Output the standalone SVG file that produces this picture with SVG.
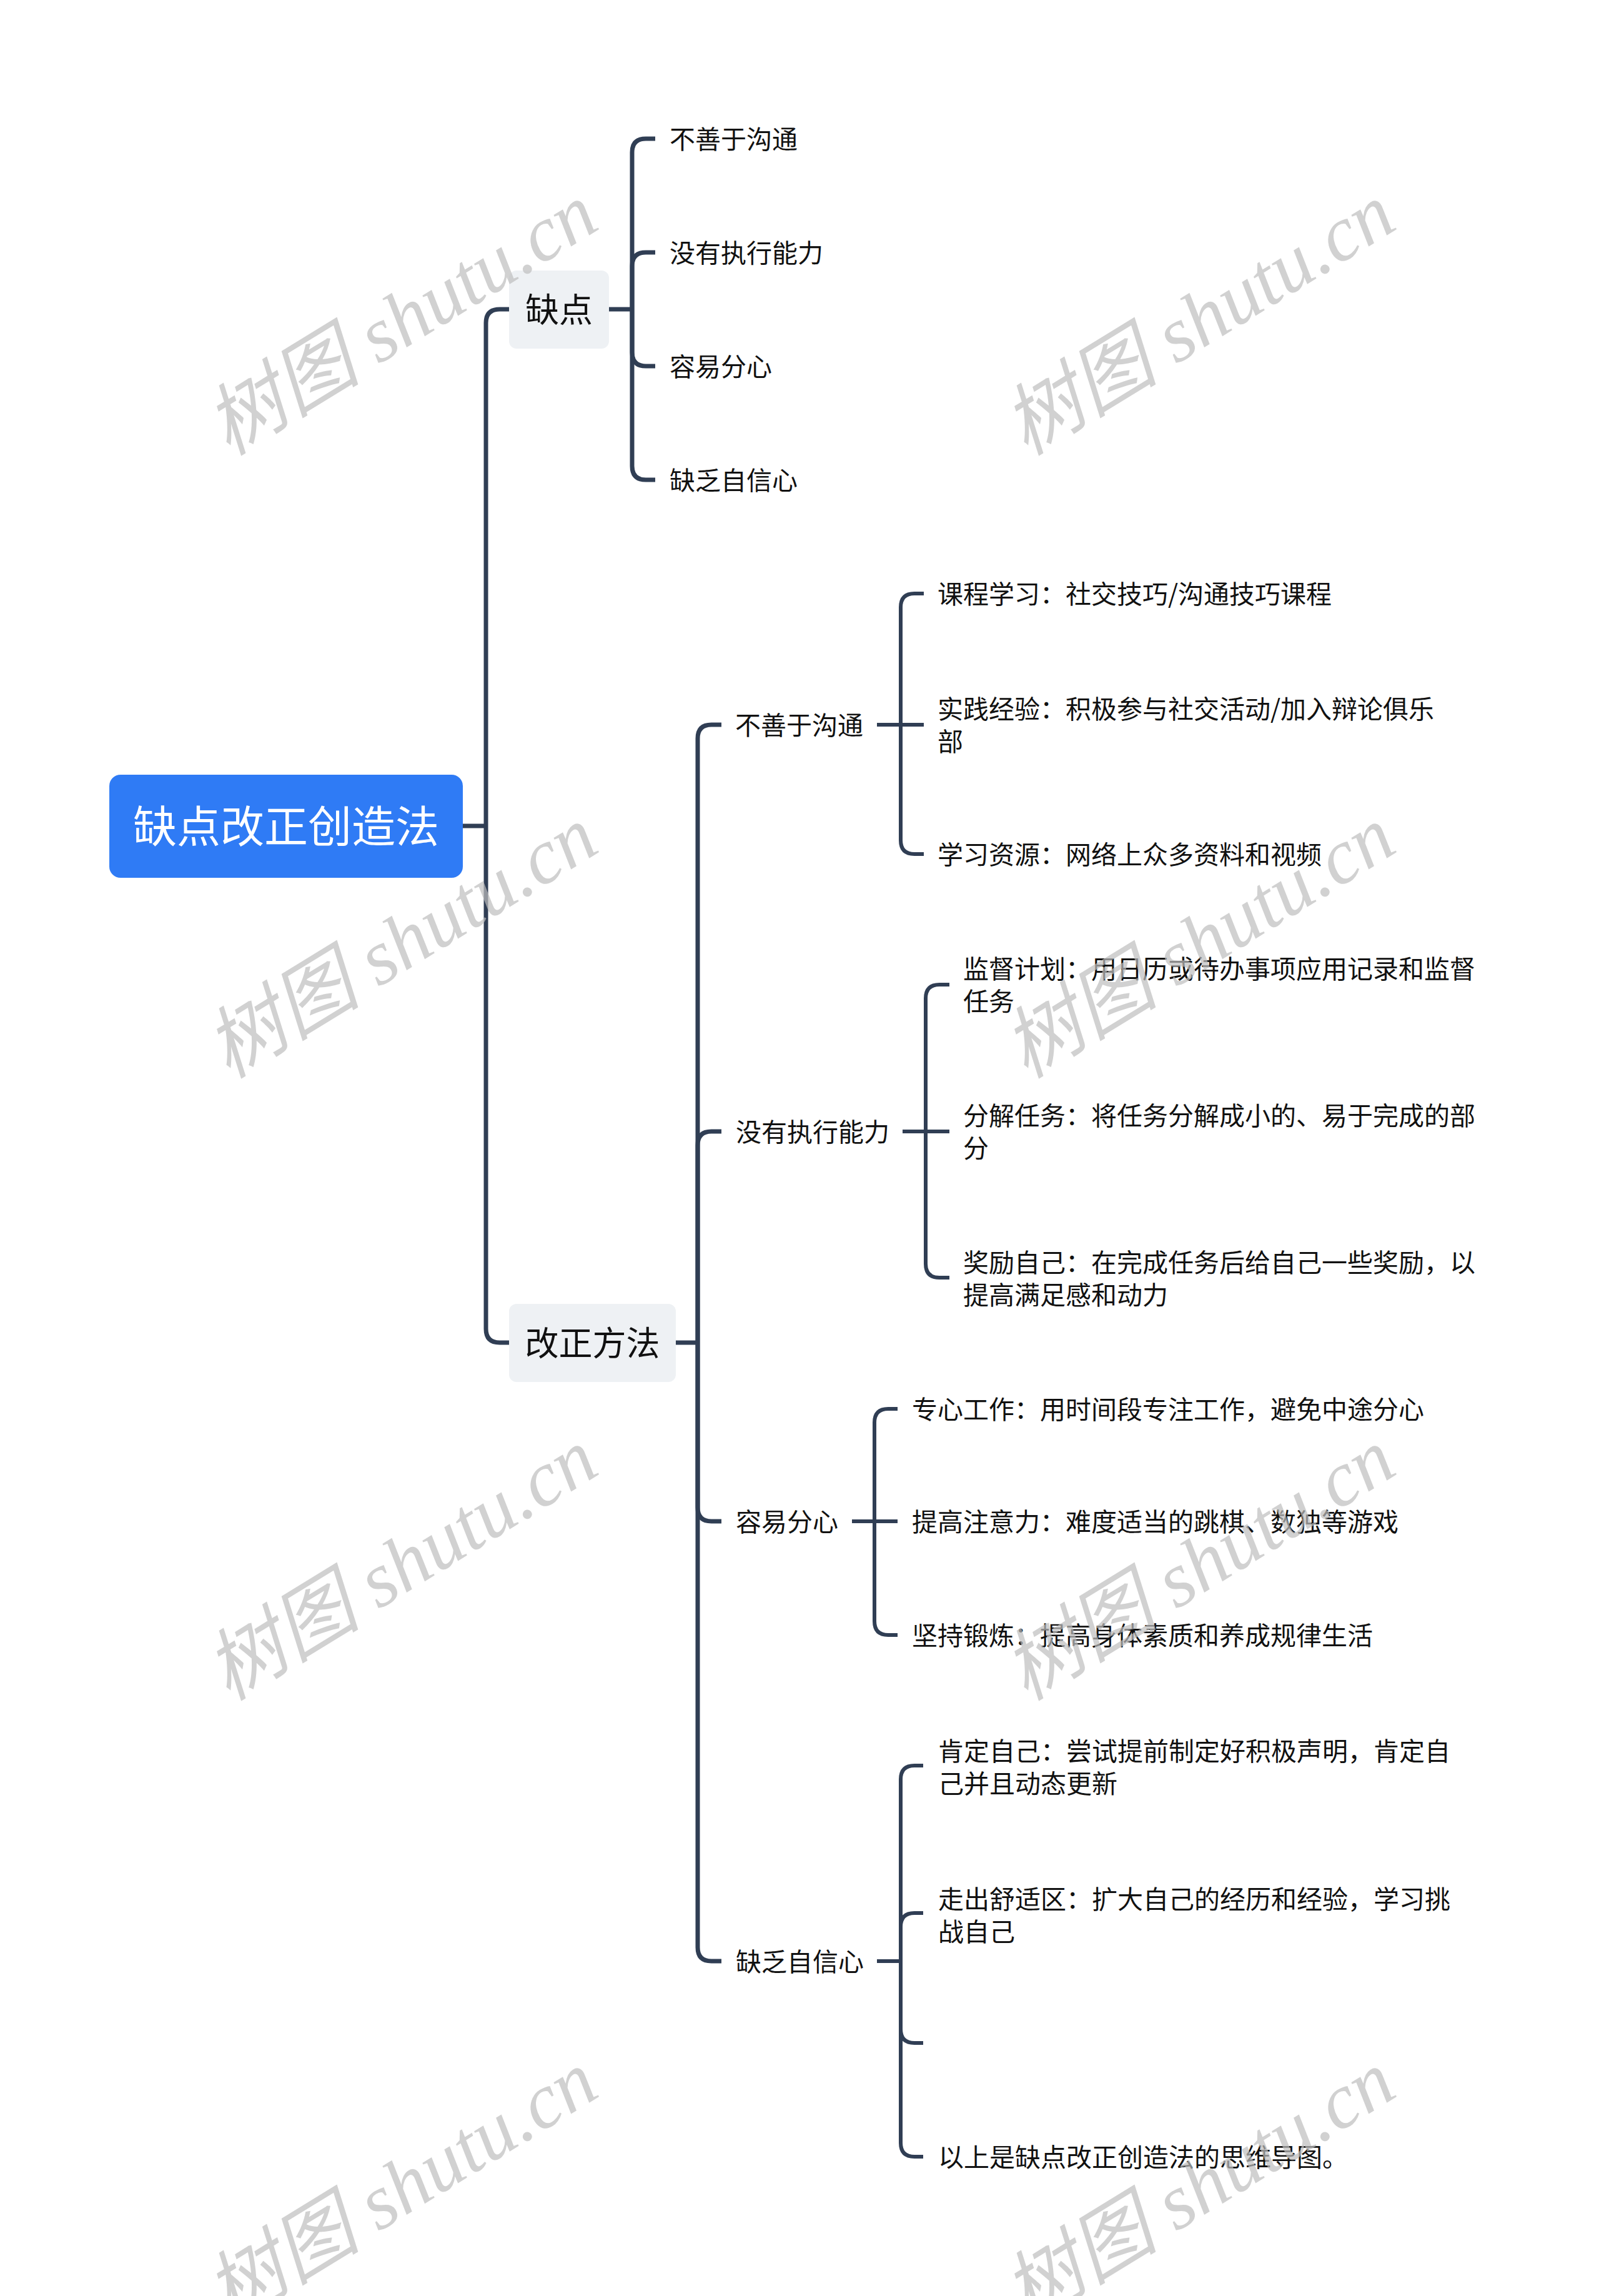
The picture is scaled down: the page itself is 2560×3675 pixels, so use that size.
<svg xmlns="http://www.w3.org/2000/svg" width="2560" height="3675" viewBox="0 0 2560 3675">
<style>
.t{font-family:"Noto Sans CJK SC","Liberation Sans",sans-serif;fill:#111111}
.l3{font-size:41px}
.l2{font-size:41px}
.l1{font-size:54px}
.root{font-size:70px;fill:#ffffff}
.c1{fill:none;stroke:#303E54;stroke-width:7;stroke-linecap:butt;stroke-linejoin:round}
.c2{fill:none;stroke:#303E54;stroke-width:6;stroke-linecap:butt;stroke-linejoin:round}
.box{fill:#EEF1F4}
.wm{font-family:"Liberation Serif","Noto Sans CJK SC",serif;font-style:italic;font-size:125px;fill:#bdbdbd;fill-opacity:0.7}
</style>
<rect width="2560" height="3675" fill="#ffffff"/>
<g id="connectors">
<path class="c1" d="M741,1322 H778"/>
<path class="c1" d="M778,1322 V517 Q778,495 800,495 H815"/>
<path class="c1" d="M778,1322 V2127 Q778,2149 800,2149 H815"/>
<path class="c1" d="M975,495 H1012"/>
<path class="c1" d="M1012,495 V244 Q1012,222 1034,222 H1049"/>
<path class="c1" d="M1012,495 V426 Q1012,404 1034,404 H1049"/>
<path class="c1" d="M1012,495 V564 Q1012,586 1034,586 H1049"/>
<path class="c1" d="M1012,495 V746 Q1012,768 1034,768 H1049"/>
<path class="c1" d="M1082,2149 H1117"/>
<path class="c1" d="M1117,2149 V1182 Q1117,1160 1139,1160 H1155"/>
<path class="c1" d="M1117,2149 V1833 Q1117,1811 1139,1811 H1155"/>
<path class="c1" d="M1117,2149 V2413 Q1117,2435 1139,2435 H1155"/>
<path class="c1" d="M1117,2149 V3117 Q1117,3139 1139,3139 H1155"/>
<path class="c2" d="M1404,1160 H1442"/>
<path class="c2" d="M1442,1160 V972 Q1442,950 1464,950 H1479"/>
<path class="c2" d="M1442,1160 H1479"/>
<path class="c2" d="M1442,1160 V1345 Q1442,1367 1464,1367 H1479"/>
<path class="c2" d="M1445,1811 H1482"/>
<path class="c2" d="M1482,1811 V1598 Q1482,1576 1504,1576 H1520"/>
<path class="c2" d="M1482,1811 H1520"/>
<path class="c2" d="M1482,1811 V2023 Q1482,2045 1504,2045 H1520"/>
<path class="c2" d="M1364,2435 H1400"/>
<path class="c2" d="M1400,2435 V2277 Q1400,2255 1422,2255 H1437"/>
<path class="c2" d="M1400,2435 H1437"/>
<path class="c2" d="M1400,2435 V2595 Q1400,2617 1422,2617 H1437"/>
<path class="c2" d="M1404,3139 H1442"/>
<path class="c2" d="M1442,3139 V2848 Q1442,2826 1464,2826 H1478"/>
<path class="c2" d="M1442,3139 V3084 Q1442,3062 1464,3062 H1478"/>
<path class="c2" d="M1442,3139 V3248 Q1442,3270 1464,3270 H1478"/>
<path class="c2" d="M1442,3139 V3430 Q1442,3452 1464,3452 H1478"/>
</g>
<g id="root">
<rect x="175" y="1240" width="566" height="165" rx="18" fill="#2F7BF5"/>
<text class="t root" x="458" y="1349" text-anchor="middle">缺点改正创造法</text>
</g>
<g id="n-quedian">
<rect class="box" x="815" y="433" width="160" height="125" rx="12"/>
<text class="t l1" x="895" y="516" text-anchor="middle">缺点</text>
</g>
<g id="n-qd1"><text class="t l2" x="1072" y="238">不善于沟通</text></g>
<g id="n-qd2"><text class="t l2" x="1072" y="420">没有执行能力</text></g>
<g id="n-qd3"><text class="t l2" x="1072" y="602">容易分心</text></g>
<g id="n-qd4"><text class="t l2" x="1072" y="784">缺乏自信心</text></g>
<g id="n-gaizheng">
<rect class="box" x="815" y="2087" width="267" height="125" rx="12"/>
<text class="t l1" x="948.5" y="2170" text-anchor="middle">改正方法</text>
</g>
<g id="n-a"><text class="t l2" x="1177" y="1176">不善于沟通</text></g>
<g id="n-a1"><text class="t l3" x="1501" y="966">课程学习：社交技巧/沟通技巧课程</text></g>
<g id="n-a2"><text class="t l3" x="1501" y="1150">实践经验：积极参与社交活动/加入辩论俱乐</text><text class="t l3" x="1501" y="1202">部</text></g>
<g id="n-a3"><text class="t l3" x="1501" y="1383">学习资源：网络上众多资料和视频</text></g>
<g id="n-b"><text class="t l2" x="1178" y="1827">没有执行能力</text></g>
<g id="n-b1"><text class="t l3" x="1542" y="1566">监督计划：用日历或待办事项应用记录和监督</text><text class="t l3" x="1542" y="1618">任务</text></g>
<g id="n-b2"><text class="t l3" x="1542" y="1801">分解任务：将任务分解成小的、易于完成的部</text><text class="t l3" x="1542" y="1853">分</text></g>
<g id="n-b3"><text class="t l3" x="1542" y="2036">奖励自己：在完成任务后给自己一些奖励，以</text><text class="t l3" x="1542" y="2088">提高满足感和动力</text></g>
<g id="n-c"><text class="t l2" x="1178" y="2451">容易分心</text></g>
<g id="n-c1"><text class="t l3" x="1460" y="2271">专心工作：用时间段专注工作，避免中途分心</text></g>
<g id="n-c2"><text class="t l3" x="1460" y="2451">提高注意力：难度适当的跳棋、数独等游戏</text></g>
<g id="n-c3"><text class="t l3" x="1460" y="2633">坚持锻炼：提高身体素质和养成规律生活</text></g>
<g id="n-d"><text class="t l2" x="1178" y="3155">缺乏自信心</text></g>
<g id="n-d1"><text class="t l3" x="1502" y="2818">肯定自己：尝试提前制定好积极声明，肯定自</text><text class="t l3" x="1502" y="2870">己并且动态更新</text></g>
<g id="n-d2"><text class="t l3" x="1502" y="3055">走出舒适区：扩大自己的经历和经验，学习挑</text><text class="t l3" x="1502" y="3107">战自己</text></g>
<g id="n-d3"></g>
<g id="n-d4"><text class="t l3" x="1502" y="3468">以上是缺点改正创造法的思维导图。</text></g>
<g id="watermarks">
<text class="wm" transform="translate(645,515) rotate(-31.5)" x="0" y="38" text-anchor="middle">树图 shutu.cn</text>
<text class="wm" transform="translate(1922,515) rotate(-31.5)" x="0" y="38" text-anchor="middle">树图 shutu.cn</text>
<text class="wm" transform="translate(645,1512) rotate(-31.5)" x="0" y="38" text-anchor="middle">树图 shutu.cn</text>
<text class="wm" transform="translate(1922,1512) rotate(-31.5)" x="0" y="38" text-anchor="middle">树图 shutu.cn</text>
<text class="wm" transform="translate(645,2508) rotate(-31.5)" x="0" y="38" text-anchor="middle">树图 shutu.cn</text>
<text class="wm" transform="translate(1922,2508) rotate(-31.5)" x="0" y="38" text-anchor="middle">树图 shutu.cn</text>
<text class="wm" transform="translate(645,3504) rotate(-31.5)" x="0" y="38" text-anchor="middle">树图 shutu.cn</text>
<text class="wm" transform="translate(1922,3504) rotate(-31.5)" x="0" y="38" text-anchor="middle">树图 shutu.cn</text>
</g>
</svg>
